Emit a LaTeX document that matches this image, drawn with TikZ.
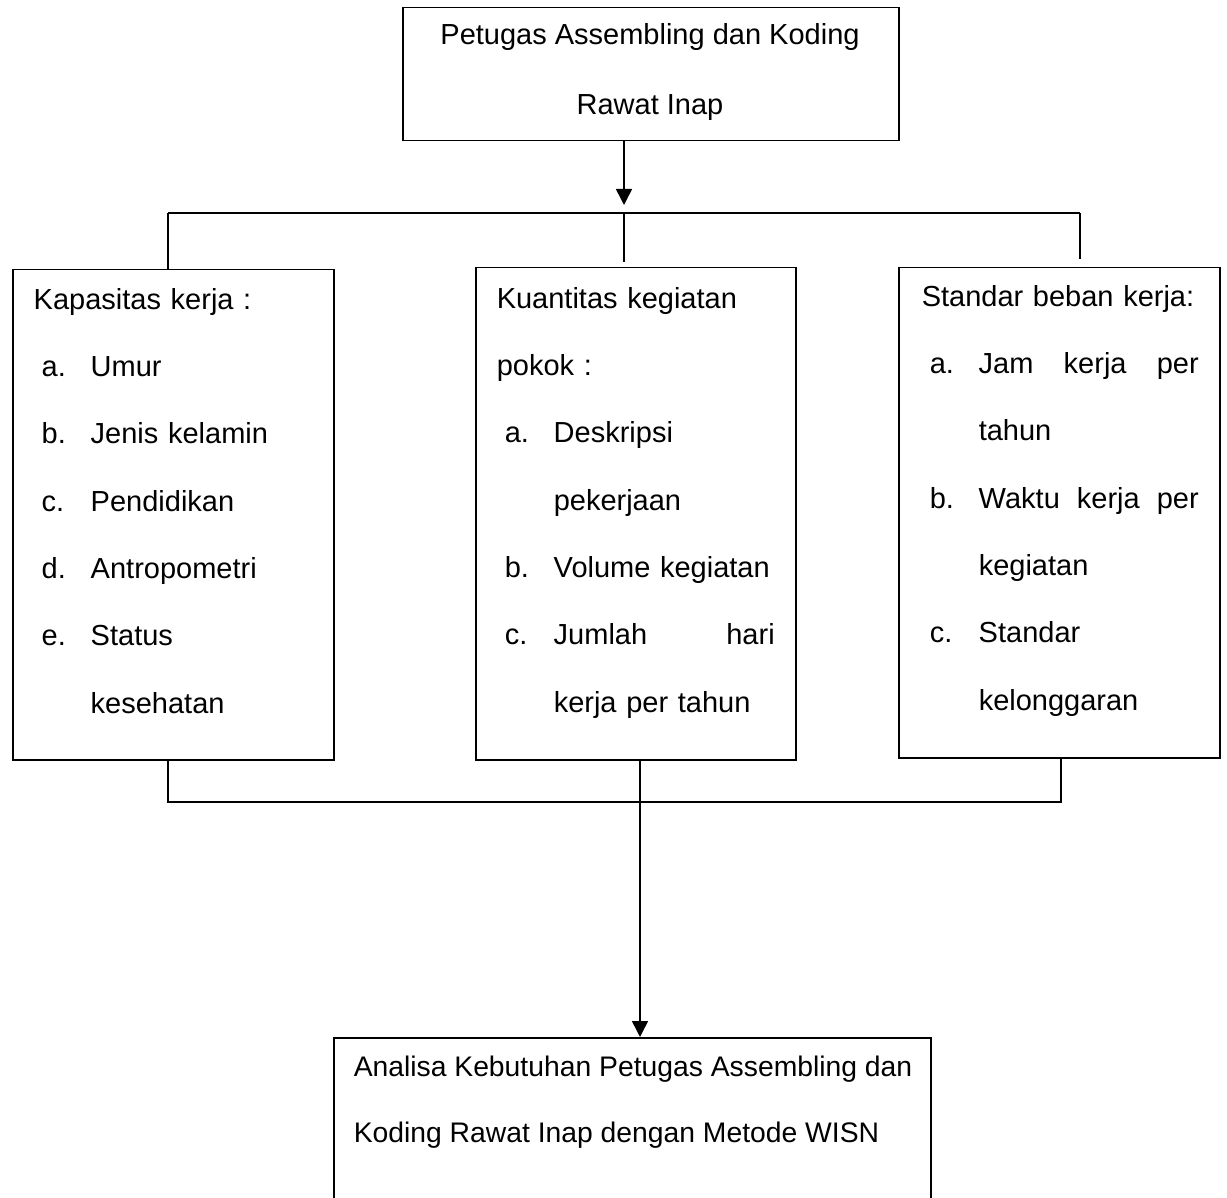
\documentclass[tikz,border=0pt]{standalone}
\usepackage{fontspec}
\setmainfont{Liberation Sans}
\usetikzlibrary{arrows.meta}

\newcommand{\lblitem}[1]{\hspace*{8pt}\makebox[49pt][l]{#1}}
\newcommand{\lblcont}{\hspace*{57pt}}

\begin{document}
\begin{tikzpicture}[x=1pt,y=1pt,line width=1.5pt]
\tikzstyle{box}=[draw, inner sep=0pt, anchor=north west]
\tikzstyle{txt}=[inner sep=0pt, anchor=north west, align=left, font=\fontsize{29}{67.3}\selectfont]
\tikzstyle{arr}=[-{Triangle[width=16pt,length=16pt]}]
\clip (0,0) rectangle (1227,-1198);
% boxes
\node [box, minimum width=496pt, minimum height=133pt] (top) at (402,-7) {};
\node [box, minimum width=321pt, minimum height=490pt] (kap) at (12,-269) {};
\node [box, minimum width=320pt, minimum height=492pt] (kuan) at (475,-267) {};
\node [box, minimum width=321pt, minimum height=490pt] (std) at (898,-267) {};
\node [box, minimum width=597pt, minimum height=200pt] (ana) at (333,-1037) {};
% texts
\node [txt, anchor=north, align=center, font=\fontsize{29}{70}\selectfont] (toptxt) at (650,-22.5)
  {Petugas Assembling dan Koding\\Rawat Inap};
\node [txt, text width=290pt] (kaptxt) at (33,-287.5) {Kapasitas kerja :\\
  \lblitem{a.}Umur\\
  \lblitem{b.}Jenis kelamin\\
  \lblitem{c.}Pendidikan\\
  \lblitem{d.}Antropometri\\
  \lblitem{e.}Status\\
  \lblcont kesehatan};
\node [txt, text width=278pt] (kuantxt) at (496,-286.5) {Kuantitas kegiatan\\
  pokok :\\
  \lblitem{a.}Deskripsi\\
  \lblcont pekerjaan\\
  \lblitem{b.}Volume kegiatan\\
  \lblitem{c.}Jumlah\hfill hari\\
  \lblcont kerja per tahun};
\node [txt, text width=277pt] (stdtxt) at (921,-284.5) {Standar beban kerja:\\
  \lblitem{a.}Jam\hfill kerja\hfill per\\
  \lblcont tahun\\
  \lblitem{b.}Waktu\hfill kerja\hfill per\\
  \lblcont kegiatan\\
  \lblitem{c.}Standar\\
  \lblcont kelonggaran};
\node [txt, font=\fontsize{28.3}{66}\selectfont] (anatxt) at (353,-1055)
  {Analisa Kebutuhan Petugas Assembling dan\\Koding Rawat Inap dengan Metode WISN};
% connectors
\coordinate (tipT) at (624,-205);
\coordinate (busL) at (168,-213);
\coordinate (busR) at (1080,-213);
\coordinate (joinL) at (168,-802);
\coordinate (joinR) at (1061,-802);
\coordinate (axis) at (640,-802);
\draw [arr] (top.south -| tipT) -- (tipT);
\draw (busL) -- (busR);
\draw (busL) -- (busL |- kap.north);
\draw [shorten >=5pt] (tipT |- busL) -- (tipT |- kuan.north);
\draw [shorten >=8pt] (busR) -- (busR |- std.north);
\draw (kap.south -| joinL) -- (joinL) -- (joinR) -- (joinR |- std.south);
\draw [arr] (kuan.south -| axis) -- (ana.north -| axis);
\end{tikzpicture}
\end{document}
